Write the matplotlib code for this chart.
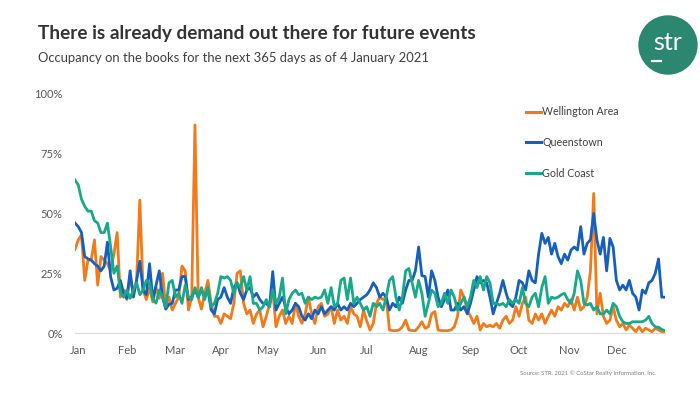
from matplotlib import pyplot as plt
from matplotlib.patches import Ellipse
from matplotlib.lines import Line2D
import numpy as np

# Occupancy on the books, one reading every second day from 4 Jan 2021 (%)
wellington = [35, 39, 41, 22, 30.5, 30.5, 39, 20, 32, 30.5, 29, 26, 33, 42, 15, 18, 14, 23.5, 16.6, 22,
              55.6, 18, 14, 19, 13, 19, 14.5, 25, 11, 15,
              9.6, 12.4, 15, 28, 26, 9.6, 15, 87, 15, 10, 16.6, 22, 12.4, 7, 7, 4, 8, 7, 6, 12.4,
              25, 26, 12.4, 8, 9.6, 4, 8, 9.6, 2.6, 7,
              12, 18, 2.6, 7, 9.6, 4, 7, 4, 12.4, 7, 4, 8, 15, 8, 4, 11, 12.4, 7, 8, 11,
              4, 9.6, 5.4, 7, 4, 11, 8, 7, 2.6, 9.6,
              5, 1.3, 4, 12.4, 15, 14, 15, 1.3, 1, 1, 1.3, 2.6, 5.4, 1.3, 1, 1, 2.6, 4.7, 2, 2.6,
              8, 9, 1.3, 1, 1, 1, 1.3, 2.6, 7, 18,
              15, 9.6, 7, 4, 7, 1.3, 4, 2.6, 3.3, 2.6, 4, 2, 5.4, 7, 4, 5.4, 11, 7, 12.4, 15,
              5.4, 4, 8, 5.4, 8, 4, 7, 9.6, 7, 11,
              9.6, 12.4, 11, 14, 9.6, 15, 9.6, 11, 15, 26, 58.4, 8, 16.6, 7, 4, 5.4, 11, 5.4, 2.6, 4,
              1.3, 3.3, 2, 0.5, 2.6, 0.5, 2, 1.3, 0.5, 2, 1.3, 0.5, 0.7]
queenstown = [46, 44.5, 42, 32, 31, 30.5, 29, 28, 26, 28, 38, 23.5, 18, 18.7, 22, 16.6, 14.5, 26, 15, 22,
              30, 18, 16, 29, 14, 20, 26, 15, 10, 12,
              12.4, 18, 18, 23.6, 23.6, 14, 15, 18, 15, 18, 15, 18, 9.6, 8, 14, 15, 19, 15, 12.4, 19,
              21, 16.6, 14, 18, 19, 15, 16.6, 14, 12.4, 12.4,
              11, 25.7, 9.6, 12.4, 15, 11, 8, 9.6, 12.4, 11, 7, 5.4, 8, 6, 9.6, 8, 11, 8, 9.6, 11,
              9.6, 12.4, 9.6, 11, 9.6, 12.4, 11, 12.4, 14, 15,
              16, 18, 21, 19, 15, 16.6, 15, 9.6, 12.4, 11, 15, 12.4, 18, 22, 22, 26, 36, 24, 23.6, 15,
              26, 22, 15, 11, 14, 18, 9.6, 9.6, 12.4, 9.6,
              11, 8, 12.4, 18, 23.6, 21, 22, 21, 15, 8, 12.4, 16.6, 22, 16.6, 12.4, 11, 15, 22, 21, 18,
              26, 22, 21, 33, 41.7, 37.5, 40, 33, 37.5, 32,
              29, 33, 30.5, 34.7, 36, 34.7, 44.5, 33, 37.5, 39, 50, 39, 33, 40, 26, 39.6, 36, 22, 18, 20,
              18, 22, 16.6, 15, 9.6, 18, 16.6, 21, 22, 25, 31, 15, 15]
gold_coast = [64, 62, 56, 53, 51, 51, 47, 46, 42, 42, 46, 36, 25, 28, 17, 15, 18, 14.5, 18, 21,
              16, 18, 22, 21, 14, 12.5, 18, 15, 11, 21,
              22, 15, 16.6, 12.4, 20, 15, 14, 19, 15, 19, 14, 19, 11, 12.4, 16.6, 23.6, 23, 23.6, 22, 16.6,
              21, 19, 23.6, 18, 23.6, 12.4, 12.4, 9.6, 11, 14,
              11, 18, 12.4, 15, 23, 8, 14, 16.6, 18, 16, 16.6, 12.4, 15, 14, 15, 14.5, 15, 18, 12.4, 19,
              11, 12.4, 22, 23, 14, 23, 12.4, 15, 12.4, 9.6,
              11, 7, 12.4, 11, 12.4, 9.6, 15, 22, 23.6, 15, 9.6, 15, 26, 27, 21, 15, 22, 16.6, 7, 12.4,
              18, 16.6, 11, 12.4, 16.6, 12.4, 18, 15, 9.6, 12.4,
              15, 11, 15, 22, 19, 23.6, 18, 23.6, 21, 12.4, 12.4, 11.7, 12.4, 11, 14, 12.4, 14, 12.4, 19, 12.4,
              11, 15, 16.6, 11, 19, 23.6, 12.4, 15, 14.5, 15,
              16, 16.6, 14, 12.4, 16.6, 26, 22, 12.4, 11.7, 12.4, 9.6, 11, 8, 8, 9.6, 8, 12.4, 11, 7, 4.7,
              4, 4, 4.7, 4.7, 4.7, 4.7, 5.4, 7, 4, 2.6, 2.4, 1.5, 1]
days = np.arange(0, 365, 2)

months = ['Jan', 'Feb', 'Mar', 'Apr', 'May', 'Jun', 'Jul', 'Aug', 'Sep', 'Oct', 'Nov', 'Dec']
month_pos = [2, 32, 62, 90, 119, 150, 180, 212, 244, 274, 305, 334]

plt.rcParams['font.family'] = ['Lato', 'DejaVu Sans']

c_orange = '#F27A1A'
c_blue = '#1560BD'
c_green = '#17A98A'
c_teal = '#2B8770'


def main():
    fig = plt.figure(figsize=(7, 3.94), dpi=100)
    ax = fig.add_axes([75 / 700, 1 - 333 / 394, 590 / 700, 239 / 394])

    ax.plot(days, wellington, color=c_orange, lw=2.0, label='Wellington Area', solid_joinstyle='round')
    ax.plot(days, queenstown, color=c_blue, lw=2.0, label='Queenstown', solid_joinstyle='round')
    ax.plot(days, gold_coast, color=c_green, lw=2.0, label='Gold Coast', solid_joinstyle='round')

    ax.set_xlim(0, 364)
    ax.set_ylim(0, 100)
    ax.set_yticks([0, 25, 50, 75, 100])
    ax.set_yticklabels(['0%', '25%', '50%', '75%', '100%'])
    ax.set_xticks(month_pos)
    ax.set_xticklabels(months)
    ax.tick_params(length=0, labelsize=8, colors='#595959')
    ax.tick_params(axis='x', pad=9)
    ax.tick_params(axis='y', pad=9)
    for s in ['top', 'right', 'left']:
        ax.spines[s].set_visible(False)
    ax.spines['bottom'].set_color('#D9D9D9')
    ax.spines['bottom'].set_linewidth(0.8)

    # Legend on the right, spread out like the original
    handles = [Line2D([], [], color=c, lw=2.2) for c in (c_orange, c_blue, c_green)]
    fig.legend(handles, ['Wellington Area', 'Queenstown', 'Gold Coast'],
               loc='upper left', bbox_to_anchor=(521 / 700, 1 - 101 / 394),
               frameon=False, fontsize=7.7, handlelength=1.4, handletextpad=0.1,
               labelspacing=1.85, borderpad=0, labelcolor='#404040')

    # Titles
    fig.text(38 / 700, 1 - 33 / 394, 'There is already demand out there for future events',
             fontsize=13.7, fontweight='bold', color='#333333', va='center')
    fig.text(38 / 700, 1 - 58 / 394, 'Occupancy on the books for the next 365 days as of 4 January 2021',
             fontsize=9.4, color='#404040', va='center')
    fig.text(657 / 700, 1 - 373 / 394, 'Source: STR. 2021 \u00a9 CoStar Realty Information, Inc.',
             fontsize=4.3, color='#808080', ha='right', va='center')

    # str logo
    fig.patches.append(Ellipse((668 / 700, 1 - 45 / 394), 58 / 700, 58 / 394,
                               transform=fig.transFigure, color=c_teal, zorder=0))
    fig.text(668 / 700, 1 - 43 / 394, 'str', fontsize=18, color='white', ha='center', va='center')
    fig.lines.append(Line2D([652 / 700, 661 / 700], [1 - 61 / 394, 1 - 61 / 394],
                            transform=fig.transFigure, color='white', lw=1.6))

    fig.savefig('out.png', dpi=100)


if __name__ == "__main__":
    main()
